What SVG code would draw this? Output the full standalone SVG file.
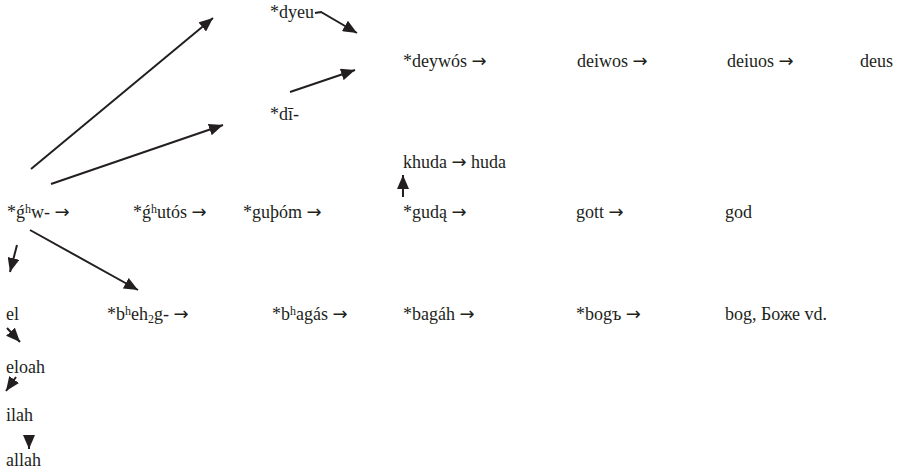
<svg xmlns="http://www.w3.org/2000/svg" width="902" height="474" viewBox="0 0 902 474">
<defs>
<marker id="ah" markerUnits="userSpaceOnUse" markerWidth="16" markerHeight="12" refX="14" refY="6" orient="auto">
<path d="M0,0 L14,6 L0,12 Z" fill="#231f20"/>
</marker>
</defs>
<rect width="902" height="474" fill="#fff"/>
<g id="connectors" stroke="#231f20" stroke-width="2" fill="none">
<line x1="31" y1="169" x2="213" y2="18" marker-end="url(#ah)"/>
<line x1="51" y1="184" x2="223" y2="125" marker-end="url(#ah)"/>
<path d="M315,13 L321,12 L357,33" marker-end="url(#ah)"/>
<line x1="290" y1="92" x2="355" y2="70" marker-end="url(#ah)"/>
<line x1="403" y1="197" x2="403" y2="175" marker-end="url(#ah)"/>
<line x1="17" y1="245" x2="10" y2="272" marker-end="url(#ah)"/>
<line x1="30" y1="230" x2="138" y2="290" marker-end="url(#ah)"/>
<line x1="7" y1="328" x2="20" y2="342" marker-end="url(#ah)"/>
<line x1="16" y1="377" x2="6" y2="391" marker-end="url(#ah)"/>
<line x1="29" y1="436" x2="29" y2="449" marker-end="url(#ah)"/>
</g>
<g id="n-dyeu"><text font-family="serif" font-size="18" fill="#231f20" x="270" y="18">*dyeu</text></g>
<g id="n-di"><text font-family="serif" font-size="18" fill="#231f20" x="270" y="120">*dī-</text></g>
<g id="n-deywos"><text font-family="serif" font-size="18" fill="#231f20" x="403" y="67">*deywós <tspan font-family="DejaVu Sans">→</tspan></text></g>
<g id="n-deiwos"><text font-family="serif" font-size="18" fill="#231f20" x="577" y="67">deiwos <tspan font-family="DejaVu Sans">→</tspan></text></g>
<g id="n-deiuos"><text font-family="serif" font-size="18" fill="#231f20" x="727" y="67">deiuos <tspan font-family="DejaVu Sans">→</tspan></text></g>
<g id="n-deus"><text font-family="serif" font-size="18" fill="#231f20" x="860" y="67">deus</text></g>
<g id="n-khuda"><text font-family="serif" font-size="18" fill="#231f20" x="403" y="168">khuda <tspan font-family="DejaVu Sans">→</tspan> huda</text></g>
<g id="n-ghw"><text font-family="serif" font-size="18" fill="#231f20" x="7" y="218">*ǵ<tspan font-size="12" dy="-5">h</tspan><tspan dy="5">w-   </tspan><tspan font-family="DejaVu Sans">→</tspan></text></g>
<g id="n-ghutos"><text font-family="serif" font-size="18" fill="#231f20" x="133" y="218">*ǵ<tspan font-size="12" dy="-5">h</tspan><tspan dy="5">utós </tspan><tspan font-family="DejaVu Sans">→</tspan></text></g>
<g id="n-guthom"><text font-family="serif" font-size="18" fill="#231f20" x="243" y="218">*guþóm <tspan font-family="DejaVu Sans">→</tspan></text></g>
<g id="n-guda"><text font-family="serif" font-size="18" fill="#231f20" x="403" y="218">*gudą <tspan font-family="DejaVu Sans">→</tspan></text></g>
<g id="n-gott"><text font-family="serif" font-size="18" fill="#231f20" x="576" y="218">gott <tspan font-family="DejaVu Sans">→</tspan></text></g>
<g id="n-god"><text font-family="serif" font-size="18" fill="#231f20" x="725" y="218">god</text></g>
<g id="n-el"><text font-family="serif" font-size="18" fill="#231f20" x="6" y="320">el</text></g>
<g id="n-bheh2g"><text font-family="serif" font-size="18" fill="#231f20" x="107" y="320">*b<tspan font-size="12" dy="-5">h</tspan><tspan dy="5">eh</tspan><tspan font-size="12" dy="3">2</tspan><tspan dy="-3">g- </tspan><tspan font-family="DejaVu Sans">→</tspan></text></g>
<g id="n-bhagas"><text font-family="serif" font-size="18" fill="#231f20" x="272" y="320">*b<tspan font-size="12" dy="-5">h</tspan><tspan dy="5">agás </tspan><tspan font-family="DejaVu Sans">→</tspan></text></g>
<g id="n-bagah"><text font-family="serif" font-size="18" fill="#231f20" x="403" y="320">*bagáh <tspan font-family="DejaVu Sans">→</tspan></text></g>
<g id="n-bog"><text font-family="serif" font-size="18" fill="#231f20" x="576" y="320">*bogъ <tspan font-family="DejaVu Sans">→</tspan></text></g>
<g id="n-bozhe"><text font-family="serif" font-size="18" fill="#231f20" x="725" y="320">bog, Боже vd.</text></g>
<g id="n-eloah"><text font-family="serif" font-size="18" fill="#231f20" x="6" y="373">eloah</text></g>
<g id="n-ilah"><text font-family="serif" font-size="18" fill="#231f20" x="6" y="421">ilah</text></g>
<g id="n-allah"><text font-family="serif" font-size="18" fill="#231f20" x="6" y="466">allah</text></g>
</svg>
